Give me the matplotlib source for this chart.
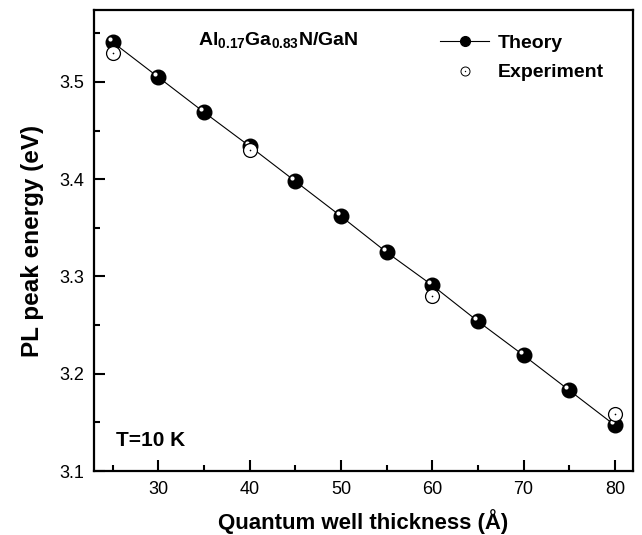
import matplotlib
matplotlib.use("Agg")
import matplotlib.pyplot as plt
import matplotlib.transforms as mtransforms
from matplotlib.lines import Line2D
from matplotlib.ticker import MultipleLocator

thickness_theory = [25, 30, 35, 40, 45, 50, 55, 60, 65, 70, 75, 80]
energy_theory = [3.541, 3.505, 3.469, 3.434, 3.398, 3.362, 3.325, 3.291, 3.254, 3.219, 3.183, 3.147]
thickness_exp = [25, 40, 60, 80]
energy_exp = [3.530, 3.430, 3.280, 3.159]

plt.rcParams['font.family'] = ['Liberation Sans', 'DejaVu Sans']
plt.rcParams['mathtext.fontset'] = 'custom'
plt.rcParams['mathtext.rm'] = 'Liberation Sans:bold'
plt.rcParams['mathtext.bf'] = 'Liberation Sans:bold'

fig = plt.figure(figsize=(6.42, 5.35), dpi=100)
ax = fig.add_axes([0.1469, 0.1196, 0.8386, 0.8617])

# theory: line + black "sphere" markers with a white highlight
ax.plot(thickness_theory, energy_theory, color='black', lw=0.8, zorder=2)
ax.plot(thickness_theory, energy_theory, 'o', ms=10.5, mfc='black', mec='black', zorder=3)
hl = ax.transData + mtransforms.ScaledTranslation(-2/72, 2.5/72, fig.dpi_scale_trans)
ax.plot(thickness_theory, energy_theory, 'o', ms=3, mfc='white', mec='none',
        transform=hl, zorder=4)

# experiment: open circle with a dot in the middle
ax.plot(thickness_exp, energy_exp, 'o', ms=10, mfc='white', mec='black', mew=0.9, zorder=5)
ax.plot(thickness_exp, energy_exp, 'o', ms=1.2, mfc='black', mec='none', zorder=6)

ax.set_xlim(23, 81.95)
ax.set_ylim(3.1, 3.574)
ax.xaxis.set_major_locator(MultipleLocator(10))
ax.xaxis.set_minor_locator(MultipleLocator(5))
ax.yaxis.set_major_locator(MultipleLocator(0.1))
ax.yaxis.set_minor_locator(MultipleLocator(0.05))
ax.tick_params(which='major', direction='in', length=8, width=1.5, labelsize=13, pad=7)
ax.tick_params(which='minor', direction='in', length=4.5, width=1.5)
ax.tick_params(top=False, right=False)
ax.yaxis.set_major_formatter(matplotlib.ticker.FormatStrFormatter('%.1f'))
for s in ax.spines.values():
    s.set_linewidth(1.6)

ax.set_xlabel('Quantum well thickness (Å)', fontsize=16, fontweight='bold', labelpad=8)
ax.set_ylabel('PL peak energy (eV)', fontsize=17.5, fontweight='bold', labelpad=11)

ax.text(0.193, 0.955, r'Al$_{0.17}$Ga$_{0.83}$N/GaN', transform=ax.transAxes,
        fontsize=14, fontweight='bold', va='top')
ax.text(0.04, 0.055, 'T=10 K', transform=ax.transAxes, fontsize=15, fontweight='bold')

theory_h = (Line2D([], [], color='black', lw=0.8),
            Line2D([], [], ls='none', marker='o', ms=7, mfc='black', mec='black'))
exp_h = (Line2D([], [], ls='none', marker='o', ms=6.5, mfc='white', mec='black', mew=0.7),
         Line2D([], [], ls='none', marker='o', ms=1, mfc='black', mec='none'))
ax.legend([theory_h, exp_h], ['Theory', 'Experiment'], loc='upper left',
          bbox_to_anchor=(0.61, 0.985), frameon=False,
          prop={'weight': 'bold', 'size': 14}, handlelength=2.5,
          handletextpad=0.45, labelspacing=0.6)

fig.savefig('out.png', dpi=100)
